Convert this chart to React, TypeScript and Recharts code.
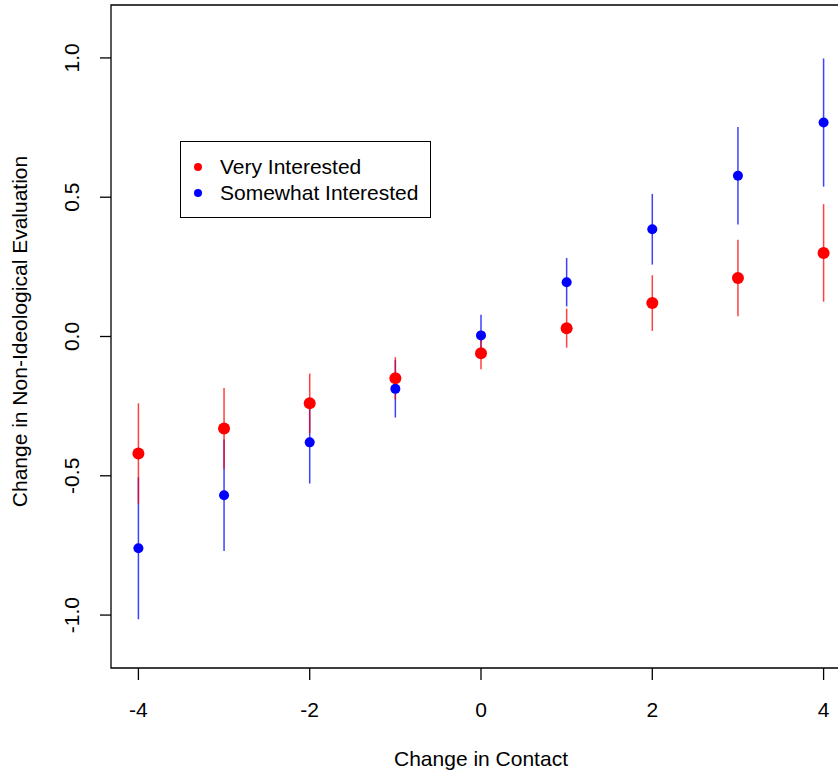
import React from "react";
import {
  ScatterChart,
  Scatter,
  XAxis,
  YAxis,
  ErrorBar,
  ReferenceArea,
  Legend,
  Label,
} from "recharts";

// change in contact (x) values
const contactChange = [-4, -3, -2, -1, 0, 1, 2, 3, 4];

// point estimates and half-widths of the intervals
const veryMean = [-0.42, -0.33, -0.24, -0.15, -0.06, 0.03, 0.12, 0.21, 0.3];
const veryErr = [0.18, 0.145, 0.107, 0.076, 0.058, 0.07, 0.1, 0.137, 0.175];
const somewhatMean = [-0.76, -0.57, -0.38, -0.188, 0.004, 0.195, 0.385, 0.577, 0.768];
const somewhatErr = [0.255, 0.2, 0.148, 0.103, 0.074, 0.087, 0.127, 0.175, 0.23];

const seriesNames = ["Very Interested", "Somewhat Interested"];
const xTicks = [-4, -2, 0, 2, 4];
const yTicks = [-1, -0.5, 0, 0.5, 1];

const X_DOMAIN = [-4.32, 4.32];
const Y_DOMAIN = [-1.19, 1.19];

const RED = "#ff0000";
const BLUE = "#0000ff";
const FONT = "'Liberation Sans', Arial, Helvetica, sans-serif";

const veryData = contactChange.map((x, i) => ({ x, y: veryMean[i], err: veryErr[i] }));
const somewhatData = contactChange.map((x, i) => ({ x, y: somewhatMean[i], err: somewhatErr[i] }));

const YTick = (props: any) => {
  const { x, y, payload } = props;
  return (
    <text
      x={x}
      y={y}
      dy="0.35em"
      textAnchor="middle"
      transform={`rotate(-90 ${x} ${y})`}
      fontSize={21}
      fill="#000"
    >
      {Number(payload.value).toFixed(1)}
    </text>
  );
};

const YTitle = (props: any) => {
  const { viewBox } = props;
  const cx = viewBox.x + 20;
  const cy = viewBox.y + viewBox.height / 2 - 5;
  return (
    <text
      x={cx}
      y={cy}
      dy="0.35em"
      textAnchor="middle"
      transform={`rotate(-90 ${cx} ${cy})`}
      fontSize={21}
      fill="#000"
    >
      Change in Non-Ideological Evaluation
    </text>
  );
};

const LegendBox = (props: any) => {
  const items = [...(props.payload || [])].sort(
    (a: any, b: any) => seriesNames.indexOf(a.value) - seriesNames.indexOf(b.value)
  );
  return (
    <div
      style={{
        border: "1px solid #000",
        width: 251,
        height: 77,
        boxSizing: "border-box",
        background: "#fff",
        paddingTop: 12,
        paddingLeft: 13,
        fontFamily: FONT,
      }}
    >
      {items.map((entry: any) => (
        <div
          key={entry.value}
          style={{ display: "flex", alignItems: "center", height: 26, fontSize: 21, color: "#000" }}
        >
          <span
            style={{
              display: "inline-block",
              width: 8,
              height: 8,
              borderRadius: "50%",
              background: entry.color,
              marginRight: 18,
            }}
          />
          {entry.value}
        </div>
      ))}
    </div>
  );
};

export default function App() {
  return (
    <div
      style={{
        position: "absolute",
        left: 0,
        top: 0,
        width: 838,
        height: 772,
        overflow: "hidden",
        background: "#fff",
        fontFamily: FONT,
      }}
    >
      <ScatterChart width={860} height={772} margin={{ top: 5, right: 9, bottom: 0, left: 0 }}>
        <XAxis
          dataKey="x"
          type="number"
          domain={X_DOMAIN}
          ticks={xTicks}
          allowDataOverflow
          axisLine={false}
          tickLine={{ stroke: "#000", strokeWidth: 1.3 }}
          tickSize={12}
          tickMargin={22}
          height={104}
          tick={{ fill: "#000", fontSize: 21 }}
        >
          <Label value="Change in Contact" position="insideBottom" offset={6} fill="#000" fontSize={21} />
        </XAxis>
        <YAxis
          dataKey="y"
          type="number"
          domain={Y_DOMAIN}
          ticks={yTicks}
          allowDataOverflow
          axisLine={false}
          tickLine={{ stroke: "#000", strokeWidth: 1.3 }}
          tickSize={11}
          tickMargin={28}
          width={111}
          tick={<YTick />}
          label={<YTitle />}
        />
        <ReferenceArea
          x1={X_DOMAIN[0]}
          x2={X_DOMAIN[1]}
          y1={Y_DOMAIN[0]}
          y2={Y_DOMAIN[1]}
          fill="none"
          fillOpacity={0}
          stroke="#000"
          strokeWidth={1.3}
          ifOverflow="visible"
        />
        <Legend
          layout="vertical"
          align="center"
          verticalAlign="middle"
          content={<LegendBox />}
          wrapperStyle={{ left: 180, top: 141, width: 251, height: 77 }}
        />
        {/* blue drawn on top of red in the original, so it comes second in paint order */}
        <Scatter
          name={seriesNames[1]}
          data={somewhatData}
          fill={BLUE}
          isAnimationActive={false}
          shape={(p: any) => <circle cx={p.cx} cy={p.cy} r={5} fill={BLUE} />}
        >
          <ErrorBar dataKey="err" direction="y" width={0} stroke={BLUE} strokeWidth={1.5} strokeOpacity={0.75} />
        </Scatter>
        <Scatter
          name={seriesNames[0]}
          data={veryData}
          fill={RED}
          isAnimationActive={false}
          shape={(p: any) => <circle cx={p.cx} cy={p.cy} r={6} fill={RED} />}
        >
          <ErrorBar dataKey="err" direction="y" width={0} stroke={RED} strokeWidth={1.5} strokeOpacity={0.75} />
        </Scatter>
      </ScatterChart>
    </div>
  );
}
